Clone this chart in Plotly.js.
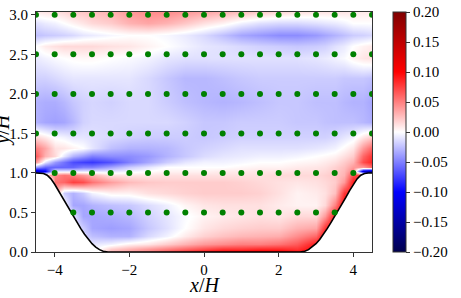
<!DOCTYPE html>
<html>
<head>
<meta charset="utf-8">
<script src="https://cdn.plot.ly/plotly-3.0.1.min.js"></script>
<style>html,body{margin:0;padding:0;background:#fff;}#plot{width:461px;height:298px;}</style>
</head>
<body>
<div id="plot"></div>
<script>
// Grid of the field (x/H, y/H)
const gridX = [-4.5,-4.25,-4,-3.75,-3.5,-3.25,-3,-2.5,-2,-1.5,-1,-0.5,0,0.5,1,1.5,2,2.5,3,3.25,3.5,3.75,4,4.25,4.5];
const gridY = [0,0.04,0.1,0.2,0.3,0.45,0.6,0.75,0.88,0.97,1.02,1.07,1.14,1.22,1.32,1.45,1.65,1.9,2.2,2.45,2.6,2.75,2.9,3.036];
// Field values, one row per gridY entry
const fieldZ = [
 [-0.1,-0.1,0.04,0.0,-0.01,-0.01,-0.01,0.03,0.04,0.05,0.07,0.085,0.1,0.105,0.11,0.11,0.11,0.1,0.1,0.1,0.1,0.1,0.09,0.08,-0.12],
 [-0.1,-0.1,0.04,0.0,-0.01,-0.01,-0.01,0.02,0.03,0.04,0.05,0.06,0.07,0.08,0.08,0.085,0.085,0.08,0.1,0.1,0.1,0.1,0.09,0.08,-0.12],
 [-0.1,-0.1,0.04,0.0,-0.01,-0.01,-0.01,-0.005,0.005,0.01,0.02,0.03,0.04,0.045,0.05,0.05,0.055,0.065,0.09,0.1,0.1,0.1,0.09,0.08,-0.12],
 [-0.1,-0.1,0.04,0.0,-0.01,-0.015,-0.025,-0.03,-0.03,-0.015,-0.005,0.008,0.018,0.024,0.028,0.03,0.032,0.045,0.06,0.1,0.1,0.1,0.09,0.08,-0.12],
 [-0.1,-0.1,0.04,0.0,-0.01,-0.02,-0.035,-0.038,-0.035,-0.022,-0.012,0.0,0.01,0.015,0.018,0.02,0.02,0.03,0.035,0.08,0.1,0.1,0.09,0.08,-0.12],
 [-0.1,-0.1,0.04,0.0,-0.01,-0.035,-0.035,-0.032,-0.028,-0.018,-0.01,-0.002,0.005,0.008,0.01,0.012,0.01,0.015,0.015,0.04,0.09,0.1,0.09,0.08,-0.12],
 [-0.1,-0.1,0.04,0.0,-0.035,-0.035,-0.03,-0.025,-0.022,-0.014,-0.006,0.004,0.01,0.012,0.012,0.012,0.008,0.005,0.005,0.015,0.05,0.1,0.09,0.08,-0.12],
 [-0.1,-0.1,0.04,-0.02,-0.03,-0.02,-0.005,0.005,0.005,0.012,0.015,0.018,0.02,0.02,0.02,0.018,0.012,0.005,0.008,0.012,0.025,0.08,0.09,0.08,-0.12],
 [-0.1,-0.1,0.055,0.06,0.075,0.07,0.055,0.038,0.027,0.022,0.02,0.02,0.02,0.02,0.018,0.015,0.012,0.01,0.012,0.015,0.02,0.04,0.09,0.08,-0.12],
 [-0.1,0.03,0.045,0.055,0.05,0.04,0.03,0.012,0.01,0.01,0.012,0.012,0.012,0.012,0.012,0.012,0.015,0.015,0.015,0.018,0.022,0.03,0.07,0.08,-0.12],
 [-0.12,-0.1,-0.01,-0.01,-0.01,-0.01,-0.01,-0.01,-0.005,0.0,0.005,0.005,0.005,0.008,0.008,0.01,0.01,0.012,0.012,0.015,0.02,0.028,0.05,-0.12,-0.15],
 [-0.04,-0.06,-0.06,-0.06,-0.06,-0.05,-0.05,-0.035,-0.02,-0.01,0.0,0.0,0.0,0.0,0.003,0.005,0.005,0.008,0.01,0.012,0.018,0.025,0.04,0.04,0.06],
 [0.04,-0.01,-0.04,-0.055,-0.07,-0.075,-0.078,-0.068,-0.05,-0.035,-0.02,-0.01,-0.005,-0.005,-0.003,0.0,0.0,0.003,0.005,0.008,0.012,0.02,0.03,0.07,0.085],
 [0.065,0.03,0.015,-0.01,-0.03,-0.04,-0.05,-0.045,-0.045,-0.04,-0.03,-0.022,-0.014,-0.01,-0.008,-0.006,-0.006,-0.004,0.0,0.002,0.005,0.012,0.02,0.06,0.08],
 [0.05,0.035,0.012,0.01,0.005,0.0,-0.01,-0.025,-0.03,-0.03,-0.028,-0.022,-0.018,-0.015,-0.012,-0.012,-0.012,-0.012,-0.01,-0.008,-0.005,0.002,0.01,0.04,0.06],
 [0.015,0.008,-0.002,-0.005,-0.01,-0.01,-0.012,-0.015,-0.018,-0.02,-0.02,-0.02,-0.022,-0.02,-0.018,-0.018,-0.018,-0.018,-0.018,-0.018,-0.015,-0.01,-0.005,0.01,0.02],
 [-0.03,-0.035,-0.037,-0.035,-0.028,-0.018,-0.015,-0.015,-0.015,-0.015,-0.015,-0.018,-0.022,-0.022,-0.02,-0.02,-0.02,-0.022,-0.022,-0.024,-0.025,-0.025,-0.025,-0.028,-0.032],
 [-0.03,-0.032,-0.032,-0.028,-0.022,-0.018,-0.016,-0.018,-0.015,-0.015,-0.02,-0.025,-0.028,-0.03,-0.028,-0.025,-0.022,-0.022,-0.025,-0.025,-0.025,-0.028,-0.03,-0.03,-0.035],
 [-0.018,-0.018,-0.015,-0.012,-0.01,-0.01,-0.01,-0.01,-0.01,-0.015,-0.022,-0.028,-0.028,-0.025,-0.022,-0.02,-0.02,-0.02,-0.02,-0.02,-0.02,-0.022,-0.022,-0.022,-0.025],
 [-0.008,-0.005,-0.002,0.0,0.002,0.003,0.003,0.0,-0.002,-0.005,-0.01,-0.012,-0.012,-0.012,-0.012,-0.012,-0.012,-0.012,-0.01,-0.008,-0.005,-0.002,0.005,0.01,0.012],
 [0.0,0.008,0.012,0.015,0.015,0.015,0.015,0.012,0.01,0.005,0.0,-0.005,-0.01,-0.012,-0.015,-0.018,-0.02,-0.022,-0.02,-0.018,-0.012,-0.008,0.0,0.005,0.008],
 [-0.025,-0.022,-0.02,-0.018,-0.015,-0.01,-0.008,-0.003,0.0,0.0,-0.003,-0.008,-0.015,-0.025,-0.035,-0.04,-0.045,-0.045,-0.04,-0.035,-0.03,-0.025,-0.02,-0.018,-0.015],
 [-0.012,-0.008,-0.005,0.0,0.005,0.01,0.015,0.02,0.03,0.035,0.03,0.022,0.012,0.005,-0.005,-0.012,-0.015,-0.015,-0.012,-0.01,-0.008,-0.005,0.0,0.0,0.0],
 [0.008,0.01,0.012,0.015,0.02,0.022,0.025,0.03,0.04,0.045,0.045,0.04,0.035,0.03,0.025,0.02,0.015,0.012,0.01,0.01,0.01,0.01,0.008,0.008,0.008]
];
// Hill profile
const hillLeftX = [-4.5,-4.4,-4.3,-4.2,-4.1,-4.0,-3.9,-3.8,-3.7,-3.6,-3.5,-3.4,-3.3,-3.2,-3.1,-3.0,-2.9,-2.8,-2.7,-2.6,-2.571];
const hillLeftY = [1.0,1.0,0.994,0.972,0.925,0.857,0.776,0.691,0.607,0.527,0.448,0.371,0.295,0.224,0.159,0.105,0.062,0.030,0.010,0.0004,0];
const hillRightX = [2.571,2.6,2.7,2.8,2.9,3.0,3.1,3.2,3.3,3.4,3.5,3.6,3.7,3.8,3.9,4.0,4.1,4.2,4.3,4.4,4.5];
const hillRightY = [0,0.0004,0.010,0.030,0.062,0.105,0.159,0.224,0.295,0.371,0.448,0.527,0.607,0.691,0.776,0.857,0.925,0.972,0.994,1.0,1.0];
// Probe locations
const probeRowsY = [3.0,2.5,2.0,1.5,1.0,0.5];
const probeXFull = [-4.5,-4,-3.5,-3,-2.5,-2,-1.5,-1,-0.5,0,0.5,1,1.5,2,2.5,3,3.5,4,4.5];
const probeXMid = [-4,-3.5,-3,-2.5,-2,-1.5,-1,-0.5,0,0.5,1,1.5,2,2.5,3,3.5,4];
const probeXLow = [-3.5,-3,-2.5,-2,-1.5,-1,-0.5,0,0.5,1,1.5,2,2.5,3,3.5];
const probeRowX = [probeXFull,probeXFull,probeXFull,probeXFull,probeXMid,probeXLow];
// Colour bar ticks
const cbTicks = [-0.2,-0.15,-0.1,-0.05,0,0.05,0.1,0.15,0.2];
const xTicks = [-4,-2,0,2,4];
const yTicks = [0,0.5,1.0,1.5,2.0,2.5,3.0];

const probeX = [], probeY = [];
probeRowsY.forEach((yv,i)=>{ probeRowX[i].forEach(xv=>{ probeX.push(xv); probeY.push(yv); }); });

const FONT = 'Liberation Serif, Times New Roman, serif';
const seismic = [[0,'rgb(0,0,77)'],[0.25,'rgb(0,0,255)'],[0.5,'rgb(255,255,255)'],[0.75,'rgb(255,0,0)'],[1,'rgb(128,0,0)']];

const traces = [
 {type:'heatmap', x:gridX, y:gridY, z:fieldZ, zmin:-0.2, zmax:0.2, zsmooth:'best', colorscale:seismic,
  hoverinfo:'skip',
  colorbar:{x:1.062, xanchor:'left', xref:'paper', y:0.5, yanchor:'middle', len:1, lenmode:'fraction', thickness:13,
    xpad:0, ypad:0, outlinewidth:1, outlinecolor:'#333', ticks:'outside', ticklen:4, tickcolor:'#333',
    tickvals:cbTicks, tickformat:'.2f', tickfont:{family:FONT, size:15, color:'#000'}}},
 {type:'scatter', mode:'lines', x:hillLeftX.concat(hillRightX), y:hillLeftY.concat(hillRightY),
  fill:'tozeroy', fillcolor:'#ffffff', line:{color:'#000', width:1.6}, hoverinfo:'skip', showlegend:false},
 {type:'scatter', mode:'markers', x:probeX, y:probeY, marker:{color:'#008000', size:6}, hoverinfo:'skip', showlegend:false}
];

const layout = {
 width:461, height:298, margin:{l:36, r:87, t:12, b:46}, paper_bgcolor:'#fff', plot_bgcolor:'#fff',
 showlegend:false, font:{family:FONT, size:15, color:'#000'},
 xaxis:{range:[-4.5,4.5], tickvals:xTicks, ticks:'outside', ticklen:4, tickcolor:'#333', showgrid:false, zeroline:false,
   showline:true, linecolor:'#333', linewidth:1, mirror:true, tickfont:{family:FONT, size:15}},
 yaxis:{range:[0,3.036], tickvals:yTicks, tickformat:'.1f', ticks:'outside', ticklen:4, tickcolor:'#333', showgrid:false, zeroline:false,
   showline:true, linecolor:'#333', linewidth:1, mirror:true, tickfont:{family:FONT, size:15}},
 annotations:[
   {text:'<i>x</i>/<i>H</i>', xref:'paper', yref:'paper', x:0.5, y:-0.137, xanchor:'center', yanchor:'middle',
    showarrow:false, font:{family:FONT, size:20, color:'#000'}},
   {text:'<i>y</i>/<i>H</i>', xref:'paper', yref:'paper', x:-0.098, y:0.51, xanchor:'center', yanchor:'middle',
    textangle:-90, showarrow:false, font:{family:FONT, size:20, color:'#000'}}
 ]
};

Plotly.newPlot('plot', traces, layout, {staticPlot:true, displayModeBar:false});
</script>
</body>
</html>
